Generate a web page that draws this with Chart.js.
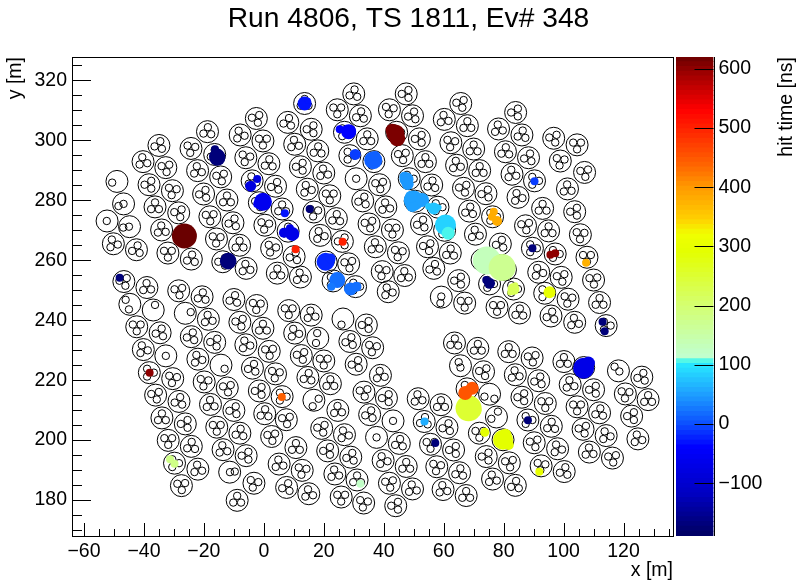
<!DOCTYPE html>
<html><head><meta charset="utf-8">
<script src="https://cdn.jsdelivr.net/npm/chart.js@4"></script>
<style>html,body{margin:0;padding:0;background:#fff;overflow:hidden}
#wrap{position:relative;width:803px;height:582px}
canvas{position:absolute;top:0}
#main{left:0}#bar{left:676px}</style></head><body>
<div id="wrap"><canvas id="main" width="803" height="582"></canvas><canvas id="bar" width="127" height="582"></canvas></div>
<script>
const chartTitle = "Run 4806, TS 1811, Ev# 348";
const xTicks = [-60,-40,-20,0,20,40,60,80,100,120];
const yTicks = [180,200,220,240,260,280,300,320];
const xMinor = [-55,-50,-45,-35,-30,-25,-15,-10,-5,5,10,15,25,30,35,45,50,55,65,70,75,85,90,95,105,110,115,125,130,135];
const yMinor = [170,175,185,190,195,205,210,215,225,230,235,245,250,255,265,270,275,285,290,295,305,310,315,325];
const cbTicks = [-100,0,100,200,300,400,500,600];

// modules holding three tubes: centre and orientation of the triple
const moduleX = [-35,-40.3,-32.7,-38.3,-30.5,-36.3,-28.4,-34.1,-26.5,-32,-24.2,-50.2,-42.5,-24.3,-18.8,-16.4,-22.1,-14.4,-20.1,-12.3,-18,-10.3,-15.8,-8.1,-13.7,-5.9,-7.9,-2.5,-0.3,-6,1.7,-3.9,3.9,-1.5,6.1,0.35,8.1,2.6,8,10.3,
30,47.5,13.6,24.5,32.2,41.9,49.6,65.7,60.2,67.9,15.8,26.9,34.5,44.3,51.9,18,28.7,36.7,46.2,53.9,62.4,70,12.2,20,38.6,48.5,56,64.3,72,14.5,22,33,40.7,50.5,58.1,66.6,16.7,24.2,35.1,42.9,52.6,60.3,68.6,18.8,26.2,37.2,44.9,54.6,62.2,70.6,10.1,20.8,28.3,12.2,23.1,30.6,39.5,47,41.5,56.7,65,67,4.5,
8.3,15.8,34.2,10.3,28.7,36.3,12.5,20,30.8,14.7,22.2,38.9,33.4,40.9,6.1,24.7,35.3,7.5,19.3,26.9,45.2,10.7,21.3,29,39.8,47.5,12.8,23.7,31.1,41.9,49.6,7.6,15,25.8,33.3,44,51.5,59.1,53.5,61.1,55.6,63.3,57.7,65.3,59.8,67.5,63.6,71.4,73.3,67.8,68.3,71.9,79.8,74.2,81.9,76.3,83.9,
81.7,89.5,83.9,91.7,86.1,93.9,88.1,95.9,90.2,98,92.5,100.2,100.1,106.7,102.2,110,104.5,112,106.5,114.2,108.6,116.3,126.1,120.6,128.2,122.7,124.8,75.3,83.3,77.8,85.3,91.7,99.2,93.7,101.5,95.8,103.7,110,112,114.2,
84,78.3,86.1,96.7,104.5,80.6,88.3,98.9,107,82.8,90.3,101.3,74.1,84.8,93,103.7,76.3,87.3,95,105.6,78.9,89.6,97.2,107.8,72.8,80.6,
-46.7,-39,-28.4,-20.6,-18.5,-42.4,-34.6,-40.2,-38.2,-30.4,-36.1,-28.3,-34,-26.2,-31.9,-24.2,-29.8,-22,-27.5,-24.2,-16.4,-22,-19.9,-12.2,-17.8,-10,-15.7,-8,-13.6,-5.9,-3.3,-8.9,-10,-2.4,-8,-0.3,-6,1.8,-3.8,3.9,-1.5,0.3,2.6,5.1];
const moduleY = [298.3,292.9,290.9,285.2,283.2,277.8,275.8,270.1,268.1,262.4,260.4,265.5,263.5,297.3,302.9,295.3,289.9,287.8,282.1,280.1,274.5,272.5,267.1,265,259.5,257.3,301.8,307.3,299.8,294.2,292.2,286.5,284.7,279.2,277.1,271.7,269.7,264,306,298.7,
315.5,315.5,312.3,310.2,308.2,310.2,308.2,312.3,307,304.9,303.7,302.7,300.5,302.7,300.5,296.5,294.9,292.9,294.9,292.9,299.2,297.1,291.2,289.1,285.2,287.2,285.1,291.7,289.9,283.7,281.5,279.8,277.8,279.7,277.7,284,276.1,273.9,272.1,270.1,272.1,270,276.4,268.3,266.3,264.5,262.5,264.5,262.4,268.7,261.2,259.4,258.8,254.4,253.1,251.2,256.2,254.9,249.5,257.3,253.2,245.7,255.7,
243.2,241.7,238.4,235.7,232.9,230.8,228.2,226.4,225.3,220.9,218.8,221.6,216,214,214.5,209.9,208.5,206.8,203.9,201.8,198.9,197.5,196.4,194.3,193.2,191.2,189.9,188.7,186.7,185.6,183.7,184.2,182.1,181,179,178.1,213.8,211.8,206.2,204.2,198.6,196.7,191.1,189.1,183.5,181.5,232.4,230.6,222.8,217.1,210.6,202.3,200.1,194.5,192.4,187,184.9,
229.5,227.4,221.8,219.8,214.3,212.2,206.7,204.6,199.1,197.1,191.4,189.5,226.2,224.2,218.5,216.8,211.1,209.1,203.6,201.5,196,194,221,215.4,213.5,208,200.4,252.1,250.4,244.3,242.4,256,254.3,249,247,241.4,239.3,253.4,245.9,238.2,
309.3,303.8,301.8,300.7,298.5,296.2,294.2,293.1,289.3,288.7,286.5,283.8,282.2,281,277.3,276.2,274.5,271.5,269.8,268.5,265.4,264,262.1,261,260.1,256.8,
252.9,250.9,249.8,247.8,240.3,237.8,235.8,230.2,222.5,220.5,215,212.9,207.4,205.4,199.9,197.9,192.3,190.3,184.8,234.5,232.6,227,219.4,217.4,211.9,209.9,204.3,202.3,196.8,194.8,185.6,179.9,246.9,244.9,239.3,237.3,231.8,229.6,224,222.1,216.4,208.8,201.2,192];
const moduleAngle = [72,100,40,60,20,90,50,95,0,30,80,110,75,20,85,90,100,45,65,90,35,70,25,90,60,100,110,50,30,15,85,100,70,40,90,20,90,10,75,100,
80,60,90,30,80,20,70,50,100,90,60,0,90,0,60,85,0,0,40,90,20,90,60,100,40,0,80,100,90,110,30,70,100,0,0,50,20,85,45,30,70,0,80,110,60,95,20,50,85,100,70,0,40,100,0,0,20,95,110,75,60,30,90,
30,100,60,110,70,20,50,30,65,80,90,100,40,60,0,95,70,40,50,110,80,90,60,70,110,90,20,100,90,40,100,70,100,30,20,60,100,90,80,70,30,60,20,80,100,90,85,90,50,0,0,30,0,60,40,100,80,
90,40,100,70,60,30,0,85,45,110,20,75,90,0,100,60,30,80,50,110,95,40,70,25,90,60,105,0,0,30,85,110,45,0,20,75,100,35,90,0,
60,100,80,50,30,85,70,20,40,100,0,95,65,110,90,60,0,40,90,25,70,0,0,30,0,0,
50,95,40,80,100,30,70,110,0,20,45,75,90,60,30,85,0,100,35,70,55,110,20,40,95,65,30,80,100,60,15,90,75,25,50,90,110,35,70,20,60,85,40,100];

// modules holding one or two tubes, and those tubes
const loneX = [-49,-46.8,-52.3,-44.8,30.8,-44.7,-36.9,-26.2,-32.7,-14.3,26.4,18,16.7,43.1,37.6,-11.4,65.6,75.3,77.6,118.3,59.2];
const loneY = [286.3,278.8,273.1,271.2,287.2,245.3,243.4,242.3,228.1,225,240.4,234,213.3,206.4,200.9,189.3,224.8,215.3,207.7,223.1,247.7];
const tubeX = [-50.6,-48.5,-46.8,-52.4,-46.9,-45,30.8,-46.1,-45,-36.3,-24.4,-32.7,-13.1,25.9,17.8,17.4,18.3,16.3,43.1,37.6,-11.3,-9.7,65,65.6,73.6,76.9,78.1,75.9,117,118.6,59.2,58.9];
const tubeY = [285.9,278.1,278.8,273.1,270.9,271.2,287.2,246.8,243.6,245.1,242.7,228.1,223.8,238.5,235.7,232.4,213.8,211.3,206.4,200.9,189.3,189.5,226,224.2,214.5,213.8,209.5,207.1,224.5,222.9,247.9,245.7];

// PMT hits: position, time [ns], amount of light
const hitX = [-16.3,-15.5,-15.6,-26.5,-11.9,-2.2,-4.4,-0.3,-2.2,7,8.7,9.5,6.7,10.6,13.6,14.7,25.3,28.3,30.5,36.5,37.2,15.3,26.3,20.6,22.3,24.5,22.5,28.9,30.9,43.9,42.8,44.5,47.6,48,46.9,50,52.8,49.5,49.1,56.7,55,58.3,60.6,61.5,74.4,74.2,79.5,75.3,74.2,83.3,83.9,82.2,95.3,76.7,76.1,77.8,90.3,89.6,95.6,97.2,107.5,113,113.7,106.7,108.3,68.3,70,69.5,67.2,73.7,79.8,80.6,81.7,91.9,88.1,53.6,57.2,32.2,-48.1,-38.1,6,-31.3,-29.8];
const hitY = [297,294.2,294.6,268.1,259.7,287.1,284.7,279.5,278.8,275.7,270.7,268.8,269.2,263.7,312.3,313.2,303.7,302.9,295.3,293.4,294.8,277.1,266.2,259.5,260.6,253.4,251.2,250.4,251.2,302.3,303.4,300.7,287,285.4,287.9,279.9,280.1,278.1,281.2,277.3,277.9,277.6,271.8,269,259.9,259.6,257.6,252.3,253.4,250.4,251.7,249.2,249.3,276.2,274.5,273.1,286.4,264,261.8,262.3,259.2,239.5,236.3,224,225.7,210.6,210,217.3,215.7,202.6,200.1,201.8,198.4,189.4,206.6,206.2,199,185.4,254.2,222.5,214.4,193.6,192.1];
const hitTime = [-170,-170,-170,620,-170,-80,-80,-60,-60,-30,-70,-70,-70,500,-30,-30,-40,-40,-10,10,10,-170,500,-20,-20,20,25,20,20,610,610,610,45,45,45,50,50,50,50,75,75,75,85,105,130,130,170,-170,-170,220,220,220,300,380,380,380,-10,-170,600,600,375,-170,-170,-70,-70,250,250,450,450,290,290,290,290,300,-170,60,-170,120,-170,600,440,180,180];
const hitLight = [4,8,8,12.5,8.3,4,5.5,9,4,4,4,7,5,4,7,3,4,7.5,5.5,9,5,4,4,9,5,8,4,6.5,5,9,6.5,8,7,6,5,10,7,6,6,6,3.5,3,10.5,6.5,14,12,13.5,5.5,4,6,3,3,6,4,4,5,4,4,4,4,4,4,4,10.5,6.5,13,8,6.5,7,4.5,10,6,5,4,4,4,4,4,4,4,4,4,4];

const cbValues = [620,590,530,440,400,345,320,290,200,112,108,100,50,0,-40,-120,-189];
const cbColors = ['#6a0000','#a00000','#ff0000','#ff6000','#ff9800','#ffd000','#f0ff00','#e4ff00','#d4ff70','#c0ffd0','#5ffce0','#28e8ff','#1ea0ff','#0c50ff','#0000ff','#0000c0','#000060'];
const cbBands = 100;

function hex(c){return [1,3,5].map(i=>parseInt(c.substr(i,2),16));}
function colorOf(t){
  for(let i=0;i<cbValues.length-1;i++){
    if(t<=cbValues[i] && t>=cbValues[i+1]){
      const f=(t-cbValues[i])/(cbValues[i+1]-cbValues[i]);
      const a=hex(cbColors[i]),b=hex(cbColors[i+1]);
      return 'rgb('+a.map((v,k)=>Math.round(v+(b[k]-v)*f)).join(',')+')';
    }
  }
  return t>cbValues[0]?cbColors[0]:cbColors[cbColors.length-1];
}
const fontFamily = '"Liberation Sans", Arial, sans-serif';
const minusFmt = v => String(v).replace('-','\u2212');

const innerTicks = {
  id:'innerTicks',
  afterDraw(chart,args,o){
    const c=chart.ctx,a=chart.chartArea;
    c.save();c.strokeStyle='#000';c.lineWidth=1;c.beginPath();
    const seg=(x1,y1,x2,y2)=>{c.moveTo(x1,y1);c.lineTo(x2,y2);};
    (o.x||[]).forEach(([v,l])=>{const p=Math.round(chart.scales.x.getPixelForValue(v))+.5;seg(p,a.bottom,p,a.bottom-l);});
    (o.y||[]).forEach(([v,l])=>{const p=Math.round(chart.scales.y.getPixelForValue(v))+.5;seg(a.left,p,a.left+l,p);});
    (o.yr||[]).forEach(([v,l])=>{const p=Math.round(chart.scales.y.getPixelForValue(v))+.5;seg(a.right,p,a.right-l,p);});
    c.stroke();
    if(o.frame){c.strokeRect(Math.round(a.left)+.5,Math.round(a.top)+.5,Math.round(a.right-a.left),Math.round(a.bottom-a.top));}
    else{c.beginPath();const r=Math.round(a.right)+.5;c.moveTo(r,a.top);c.lineTo(r,a.bottom);c.stroke();}
    if(o.sideTitle){
      c.fillStyle='#000';c.font='19.5px '+fontFamily;c.textAlign='right';c.textBaseline='middle';
      c.translate(chart.width-16,a.top);c.rotate(-Math.PI/2);c.fillText(o.sideTitle,0,0);
    }
    c.restore();
  }
};
const shiftTitle = {id:'shiftTitle',afterLayout(chart){ if(chart.titleBlock) chart.titleBlock.left += 144; }};

new Chart(document.getElementById('main'),{
  type:'bubble',
  data:{datasets:[
    {label:'hits',order:0,data:hitX.map((x,i)=>({x,y:hitY[i],r:hitLight[i]})),
      backgroundColor:hitTime.map(colorOf),borderWidth:0},
    {label:'tubes',order:1,data:moduleX.flatMap((x,i)=>[0,120,240].map(d=>{
        const a=(moduleAngle[i]+d)*Math.PI/180;
        return {x:x+1.5*Math.cos(a),y:moduleY[i]+1.5*Math.sin(a),r:3.7};
      })).concat(tubeX.map((x,i)=>({x,y:tubeY[i],r:3.7}))),
      backgroundColor:'rgba(0,0,0,0)',borderColor:'#000',borderWidth:1},
    {label:'modules',order:2,data:moduleX.map((x,i)=>({x,y:moduleY[i],r:11})).concat(loneX.map((x,i)=>({x,y:loneY[i],r:11}))),
      backgroundColor:'rgba(0,0,0,0)',borderColor:'#000',borderWidth:1}
  ]},
  options:{
    responsive:false,animation:false,events:[],
    layout:{padding:{left:0,right:130,top:0,bottom:0}},
    scales:{
      x:{type:'linear',min:-64,max:136.5,grid:{display:false,drawTicks:false},border:{display:false},
        afterBuildTicks(s){s.ticks=xTicks.map(value=>({value}));},
        afterFit(s){s.height=46;},
        ticks:{color:'#000',font:{family:fontFamily,size:19.5},padding:4,maxRotation:0,autoSkip:false,callback:minusFmt},
        title:{display:true,text:'x [m]',align:'end',color:'#000',font:{family:fontFamily,size:19.5},padding:{top:0,bottom:0}}},
      y:{type:'linear',min:168,max:327.8,grid:{display:false,drawTicks:false},border:{display:false},
        afterBuildTicks(s){s.ticks=yTicks.map(value=>({value}));},
        afterFit(s){s.width=72;},
        ticks:{color:'#000',font:{family:fontFamily,size:19.5},padding:5,autoSkip:false,callback:minusFmt},
        title:{display:true,text:'y [m]',align:'end',color:'#000',font:{family:fontFamily,size:19.5},padding:{top:4,bottom:0}}}
    },
    plugins:{
      legend:{display:false},tooltip:{enabled:false},
      title:{display:true,text:chartTitle,color:'#000',font:{family:fontFamily,size:28.2,weight:'normal'},padding:{top:2,bottom:21.2}},
      innerTicks:{frame:true,
        x:xTicks.map(v=>[v,13]).concat(xMinor.map(v=>[v,7])),
        y:yTicks.map(v=>[v,19]).concat(yMinor.map(v=>[v,10]))}
    }
  },
  plugins:[innerTicks,shiftTitle]
});

const bandStep=(cbValues[0]-cbValues[cbValues.length-1])/cbBands;
const bandLow=Array.from({length:cbBands},(_,i)=>cbValues[cbValues.length-1]+i*bandStep);
new Chart(document.getElementById('bar'),{
  type:'bar',
  data:{labels:['hit time'],datasets:bandLow.map(lo=>({
    data:[[lo,lo+bandStep+0.4]],backgroundColor:colorOf(lo+bandStep/2),borderWidth:0,
    barPercentage:1,categoryPercentage:1,grouped:false}))},
  options:{
    responsive:false,animation:false,events:[],
    layout:{padding:{top:57,bottom:46,left:0,right:0}},
    scales:{
      x:{display:false,offset:true},
      y:{position:'right',min:-189,max:620,grid:{display:false,drawTicks:false},border:{display:false},
        afterBuildTicks(s){s.ticks=cbTicks.map(value=>({value}));},
        afterFit(s){s.width=89.5;},
        ticks:{color:'#000',font:{family:fontFamily,size:19.5},padding:5,autoSkip:false,callback:minusFmt}}
    },
    plugins:{legend:{display:false},tooltip:{enabled:false},title:{display:false},
      innerTicks:{yr:cbTicks.map(v=>[v,19]),sideTitle:'hit time [ns]'}}
  },
  plugins:[innerTicks]
});
</script></body></html>
